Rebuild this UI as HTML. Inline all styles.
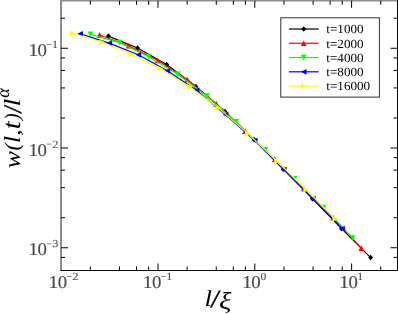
<!DOCTYPE html><html><head><meta charset="utf-8"><style>html,body{margin:0;padding:0;background:#fff;}body{width:398px;height:314px;overflow:hidden;position:relative;font-family:"Liberation Serif",serif;}svg text{text-rendering:geometricPrecision;}</style></head><body><svg width="398" height="314" viewBox="0 0 398 314" style="position:absolute;left:0;top:0;display:block;will-change:transform">
<rect width="398" height="314" fill="#fff"/>
<defs><clipPath id="c"><rect x="61.0" y="0.8" width="336.5" height="269.7"/></clipPath></defs>
<g clip-path="url(#c)">
<path d="M108.40 36.10L137.54 48.00L166.68 64.60L195.82 86.50L224.96 111.50L254.10 139.70L283.24 169.20L312.38 198.60L341.52 228.70L370.66 257.60" fill="none" stroke="#000000" stroke-width="1.2" stroke-linejoin="round"/>
<path d="M108.40 33.25L110.85 36.10L108.40 38.95L105.95 36.10Z" fill="#000000"/>
<path d="M137.54 45.15L139.99 48.00L137.54 50.85L135.09 48.00Z" fill="#000000"/>
<path d="M166.68 61.75L169.13 64.60L166.68 67.45L164.23 64.60Z" fill="#000000"/>
<path d="M195.82 83.65L198.27 86.50L195.82 89.35L193.37 86.50Z" fill="#000000"/>
<path d="M224.96 108.65L227.41 111.50L224.96 114.35L222.51 111.50Z" fill="#000000"/>
<path d="M254.10 136.85L256.55 139.70L254.10 142.55L251.65 139.70Z" fill="#000000"/>
<path d="M283.24 166.35L285.69 169.20L283.24 172.05L280.79 169.20Z" fill="#000000"/>
<path d="M312.38 195.75L314.83 198.60L312.38 201.45L309.93 198.60Z" fill="#000000"/>
<path d="M341.52 225.85L343.97 228.70L341.52 231.55L339.07 228.70Z" fill="#000000"/>
<path d="M370.66 254.75L373.11 257.60L370.66 260.45L368.21 257.60Z" fill="#000000"/>
<path d="M99.50 35.00L128.60 45.70L157.75 60.30L187.20 79.50L216.30 103.60L245.05 131.10L274.75 159.30L303.80 188.60L333.10 217.60L361.30 248.10" fill="none" stroke="#ff0000" stroke-width="1.2" stroke-linejoin="round"/>
<path d="M99.50 32.15L102.35 37.85L96.65 37.85Z" fill="#ff0000"/>
<path d="M128.60 42.85L131.45 48.55L125.75 48.55Z" fill="#ff0000"/>
<path d="M157.75 57.45L160.60 63.15L154.90 63.15Z" fill="#ff0000"/>
<path d="M187.20 76.65L190.05 82.35L184.35 82.35Z" fill="#ff0000"/>
<path d="M216.30 100.75L219.15 106.45L213.45 106.45Z" fill="#ff0000"/>
<path d="M245.05 128.25L247.90 133.95L242.20 133.95Z" fill="#ff0000"/>
<path d="M274.75 156.45L277.60 162.15L271.90 162.15Z" fill="#ff0000"/>
<path d="M303.80 185.75L306.65 191.45L300.95 191.45Z" fill="#ff0000"/>
<path d="M333.10 214.75L335.95 220.45L330.25 220.45Z" fill="#ff0000"/>
<path d="M361.30 245.25L364.15 250.95L358.45 250.95Z" fill="#ff0000"/>
<path d="M90.40 34.35L119.55 42.70L148.70 56.70L177.85 74.30L207.00 96.20L236.15 121.90L265.30 149.85L294.45 178.80L323.60 207.70L352.75 238.00" fill="none" stroke="#00ff00" stroke-width="1.2" stroke-linejoin="round"/>
<path d="M90.40 37.20L93.25 31.50L87.55 31.50Z" fill="#00ff00"/>
<path d="M119.55 45.55L122.40 39.85L116.70 39.85Z" fill="#00ff00"/>
<path d="M148.70 59.55L151.55 53.85L145.85 53.85Z" fill="#00ff00"/>
<path d="M177.85 77.15L180.70 71.45L175.00 71.45Z" fill="#00ff00"/>
<path d="M207.00 99.05L209.85 93.35L204.15 93.35Z" fill="#00ff00"/>
<path d="M236.15 124.75L239.00 119.05L233.30 119.05Z" fill="#00ff00"/>
<path d="M265.30 152.70L268.15 147.00L262.45 147.00Z" fill="#00ff00"/>
<path d="M294.45 181.65L297.30 175.95L291.60 175.95Z" fill="#00ff00"/>
<path d="M323.60 210.55L326.45 204.85L320.75 204.85Z" fill="#00ff00"/>
<path d="M352.75 240.85L355.60 235.15L349.90 235.15Z" fill="#00ff00"/>
<path d="M80.10 33.75L109.20 43.10L138.30 54.80L167.40 70.80L196.50 90.30L225.60 114.70L254.70 140.50L283.80 169.60L312.90 198.80L342.00 228.50" fill="none" stroke="#0000ff" stroke-width="1.2" stroke-linejoin="round"/>
<path d="M77.25 33.75L82.95 30.90L82.95 36.60Z" fill="#0000ff"/>
<path d="M106.35 43.10L112.05 40.25L112.05 45.95Z" fill="#0000ff"/>
<path d="M135.45 54.80L141.15 51.95L141.15 57.65Z" fill="#0000ff"/>
<path d="M164.55 70.80L170.25 67.95L170.25 73.65Z" fill="#0000ff"/>
<path d="M193.65 90.30L199.35 87.45L199.35 93.15Z" fill="#0000ff"/>
<path d="M222.75 114.70L228.45 111.85L228.45 117.55Z" fill="#0000ff"/>
<path d="M251.85 140.50L257.55 137.65L257.55 143.35Z" fill="#0000ff"/>
<path d="M280.95 169.60L286.65 166.75L286.65 172.45Z" fill="#0000ff"/>
<path d="M310.05 198.80L315.75 195.95L315.75 201.65Z" fill="#0000ff"/>
<path d="M339.15 228.50L344.85 225.65L344.85 231.35Z" fill="#0000ff"/>
<path d="M73.10 33.50L102.23 42.30L131.36 54.20L160.49 68.70L189.62 86.70L218.75 108.10L247.88 133.60L277.01 161.20L306.14 189.80L335.27 219.00" fill="none" stroke="#ffff00" stroke-width="1.2" stroke-linejoin="round"/>
<path d="M75.95 33.50L70.25 30.65L70.25 36.35Z" fill="#ffff00"/>
<path d="M105.08 42.30L99.38 39.45L99.38 45.15Z" fill="#ffff00"/>
<path d="M134.21 54.20L128.51 51.35L128.51 57.05Z" fill="#ffff00"/>
<path d="M163.34 68.70L157.64 65.85L157.64 71.55Z" fill="#ffff00"/>
<path d="M192.47 86.70L186.77 83.85L186.77 89.55Z" fill="#ffff00"/>
<path d="M221.60 108.10L215.90 105.25L215.90 110.95Z" fill="#ffff00"/>
<path d="M250.73 133.60L245.03 130.75L245.03 136.45Z" fill="#ffff00"/>
<path d="M279.86 161.20L274.16 158.35L274.16 164.05Z" fill="#ffff00"/>
<path d="M308.99 189.80L303.29 186.95L303.29 192.65Z" fill="#ffff00"/>
<path d="M338.12 219.00L332.42 216.15L332.42 221.85Z" fill="#ffff00"/>
</g>
<path d="M61.0 0V271.0" fill="none" stroke="#1c1c1c" stroke-width="1"/>
<path d="M60.5 0.75H398.0" fill="none" stroke="#8e8e8e" stroke-width="1.5"/>
<path d="M397.5 0V271.0M60.5 270.5H398.0" fill="none" stroke="#0a0a0a" stroke-width="1"/>
<path d="M90.34 270.5v-4M90.34 0.8v4M119.48 270.5v-4M119.48 0.8v4M136.53 270.5v-4M136.53 0.8v4M148.62 270.5v-4M148.62 0.8v4M158.00 270.5v-7M158.00 0.8v7M187.14 270.5v-4M187.14 0.8v4M216.28 270.5v-4M216.28 0.8v4M233.33 270.5v-4M233.33 0.8v4M245.42 270.5v-4M245.42 0.8v4M254.80 270.5v-7M254.80 0.8v7M283.94 270.5v-4M283.94 0.8v4M313.08 270.5v-4M313.08 0.8v4M330.13 270.5v-4M330.13 0.8v4M342.22 270.5v-4M342.22 0.8v4M351.60 270.5v-7M351.60 0.8v7M380.74 270.5v-4M380.74 0.8v4M61.0 257.42h4M397.5 257.42h-4M61.0 247.75h7M397.5 247.75h-7M61.0 217.72h4M397.5 217.72h-4M61.0 187.69h4M397.5 187.69h-4M61.0 170.13h4M397.5 170.13h-4M61.0 157.67h4M397.5 157.67h-4M61.0 148.00h7M397.5 148.00h-7M61.0 117.97h4M397.5 117.97h-4M61.0 87.94h4M397.5 87.94h-4M61.0 70.38h4M397.5 70.38h-4M61.0 57.92h4M397.5 57.92h-4M61.0 48.25h7M397.5 48.25h-7M61.0 18.22h4M397.5 18.22h-4" fill="none" stroke="#000" stroke-width="1"/>
<text transform="matrix(0.2029 0 0 0.1817 48.27 288.00)" font-family="Liberation Serif, serif" font-style="normal" font-size="100" fill="#4a4a4a" stroke="#4a4a4a" stroke-width="0.8">1</text><text transform="matrix(0.1881 0 0 0.1807 57.65 288.02)" font-family="Liberation Serif, serif" font-style="normal" font-size="100" fill="#4a4a4a" stroke="#4a4a4a" stroke-width="0.8">0</text><rect x="66.80" y="276.10" width="4.8" height="0.75" fill="#666"/><text transform="matrix(0.1250 0 0 0.1091 72.34 279.90)" font-family="Liberation Serif, serif" font-style="normal" font-size="100" fill="#4a4a4a" stroke="#4a4a4a" stroke-width="0.8">2</text>
<text transform="matrix(0.2029 0 0 0.1817 142.52 288.00)" font-family="Liberation Serif, serif" font-style="normal" font-size="100" fill="#4a4a4a" stroke="#4a4a4a" stroke-width="0.8">1</text><text transform="matrix(0.1881 0 0 0.1807 151.90 288.02)" font-family="Liberation Serif, serif" font-style="normal" font-size="100" fill="#4a4a4a" stroke="#4a4a4a" stroke-width="0.8">0</text><rect x="161.05" y="276.10" width="4.8" height="0.75" fill="#666"/><text transform="matrix(0.1200 0 0 0.1099 166.37 279.90)" font-family="Liberation Serif, serif" font-style="normal" font-size="100" fill="#4a4a4a" stroke="#4a4a4a" stroke-width="0.8">1</text>
<text transform="matrix(0.2029 0 0 0.1817 241.92 288.00)" font-family="Liberation Serif, serif" font-style="normal" font-size="100" fill="#4a4a4a" stroke="#4a4a4a" stroke-width="0.8">1</text><text transform="matrix(0.1881 0 0 0.1807 251.30 288.02)" font-family="Liberation Serif, serif" font-style="normal" font-size="100" fill="#4a4a4a" stroke="#4a4a4a" stroke-width="0.8">0</text><text transform="matrix(0.1143 0 0 0.1067 260.59 279.79)" font-family="Liberation Serif, serif" font-style="normal" font-size="100" fill="#4a4a4a" stroke="#4a4a4a" stroke-width="0.8">0</text>
<text transform="matrix(0.2029 0 0 0.1817 339.07 288.00)" font-family="Liberation Serif, serif" font-style="normal" font-size="100" fill="#4a4a4a" stroke="#4a4a4a" stroke-width="0.8">1</text><text transform="matrix(0.1881 0 0 0.1807 348.45 288.02)" font-family="Liberation Serif, serif" font-style="normal" font-size="100" fill="#4a4a4a" stroke="#4a4a4a" stroke-width="0.8">0</text><text transform="matrix(0.1171 0 0 0.1099 357.15 279.90)" font-family="Liberation Serif, serif" font-style="normal" font-size="100" fill="#4a4a4a" stroke="#4a4a4a" stroke-width="0.8">1</text>
<text transform="matrix(0.2029 0 0 0.1817 28.17 55.85)" font-family="Liberation Serif, serif" font-style="normal" font-size="100" fill="#4a4a4a" stroke="#4a4a4a" stroke-width="0.8">1</text><text transform="matrix(0.1881 0 0 0.1807 37.55 55.87)" font-family="Liberation Serif, serif" font-style="normal" font-size="100" fill="#4a4a4a" stroke="#4a4a4a" stroke-width="0.8">0</text><rect x="46.70" y="43.95" width="4.8" height="0.75" fill="#666"/><text transform="matrix(0.1200 0 0 0.1099 52.02 47.75)" font-family="Liberation Serif, serif" font-style="normal" font-size="100" fill="#4a4a4a" stroke="#4a4a4a" stroke-width="0.8">1</text>
<text transform="matrix(0.2029 0 0 0.1817 28.17 155.60)" font-family="Liberation Serif, serif" font-style="normal" font-size="100" fill="#4a4a4a" stroke="#4a4a4a" stroke-width="0.8">1</text><text transform="matrix(0.1881 0 0 0.1807 37.55 155.62)" font-family="Liberation Serif, serif" font-style="normal" font-size="100" fill="#4a4a4a" stroke="#4a4a4a" stroke-width="0.8">0</text><rect x="46.70" y="143.70" width="4.8" height="0.75" fill="#666"/><text transform="matrix(0.1250 0 0 0.1091 52.24 147.50)" font-family="Liberation Serif, serif" font-style="normal" font-size="100" fill="#4a4a4a" stroke="#4a4a4a" stroke-width="0.8">2</text>
<text transform="matrix(0.2029 0 0 0.1817 28.17 255.35)" font-family="Liberation Serif, serif" font-style="normal" font-size="100" fill="#4a4a4a" stroke="#4a4a4a" stroke-width="0.8">1</text><text transform="matrix(0.1881 0 0 0.1807 37.55 255.37)" font-family="Liberation Serif, serif" font-style="normal" font-size="100" fill="#4a4a4a" stroke="#4a4a4a" stroke-width="0.8">0</text><rect x="46.70" y="243.45" width="4.8" height="0.75" fill="#666"/><text transform="matrix(0.1220 0 0 0.1075 52.19 247.14)" font-family="Liberation Serif, serif" font-style="normal" font-size="100" fill="#4a4a4a" stroke="#4a4a4a" stroke-width="0.8">3</text>
<text transform="matrix(0.2700 0 0 0.2261 204.61 305.70)" font-family="Liberation Serif, serif" font-style="italic" font-size="100" fill="#000">l</text>
<text transform="matrix(0.2506 0 0 0.2451 211.43 307.25)" font-family="Liberation Serif, serif" font-style="italic" font-size="100" fill="#000" stroke="#000" stroke-width="2.2">/</text>
<text transform="matrix(0.2897 0 0 0.2437 219.09 308.84)" font-family="Liberation Serif, serif" font-style="italic" font-size="100" fill="#000">ξ</text>
<text transform="translate(19.9 167.6) rotate(-90) matrix(0.2567 0 0 0.2344 -0.64 -0.03)" font-family="Liberation Serif, serif" font-style="italic" font-size="100" fill="#000">w</text>
<text transform="translate(19.9 167.6) rotate(-90) matrix(0.2200 0 0 0.2111 17.03 -1.33)" font-family="Liberation Serif, serif" font-style="italic" font-size="100" fill="#000">(</text>
<text transform="translate(19.9 167.6) rotate(-90) matrix(0.2550 0 0 0.2304 24.60 0.00)" font-family="Liberation Serif, serif" font-style="italic" font-size="100" fill="#000">l</text>
<text transform="translate(19.9 167.6) rotate(-90) matrix(0.2667 0 0 0.2000 31.67 0.10)" font-family="Liberation Serif, serif" font-style="italic" font-size="100" fill="#000">,</text>
<text transform="translate(19.9 167.6) rotate(-90) matrix(0.2840 0 0 0.2544 38.42 -0.05)" font-family="Liberation Serif, serif" font-style="italic" font-size="100" fill="#000">t</text>
<text transform="translate(19.9 167.6) rotate(-90) matrix(0.2087 0 0 0.2111 47.24 -1.33)" font-family="Liberation Serif, serif" font-style="italic" font-size="100" fill="#000">)</text>
<text transform="translate(19.9 167.6) rotate(-90) matrix(0.2127 0 0 0.2496 55.16 1.55)" font-family="Liberation Serif, serif" font-style="italic" font-size="100" fill="#000" stroke="#000" stroke-width="2.2">/</text>
<text transform="translate(19.9 167.6) rotate(-90) matrix(0.2850 0 0 0.2304 61.03 0.00)" font-family="Liberation Serif, serif" font-style="italic" font-size="100" fill="#000">l</text>
<text transform="translate(19.9 167.6) rotate(-90) matrix(0.1804 0 0 0.1854 69.76 -11.19)" font-family="Liberation Serif, serif" font-style="italic" font-size="100" fill="#000">α</text>
<rect x="280.8" y="17.8" width="98.60" height="79.30" fill="#fff" stroke="#303030" stroke-width="1"/>
<path d="M288.9 29.00H318.7" stroke="#000000" stroke-width="1.2"/>
<path d="M303.70 26.15L306.15 29.00L303.70 31.85L301.25 29.00Z" fill="#000000"/>
<text transform="translate(326.25 33.45) scale(1.052 1)" font-family="Liberation Serif, serif" font-size="12.5" fill="#000">t=1000</text>
<path d="M288.9 43.27H318.7" stroke="#ff0000" stroke-width="1.2"/>
<path d="M303.70 40.42L306.55 46.12L300.85 46.12Z" fill="#ff0000"/>
<text transform="translate(326.25 47.65) scale(1.052 1)" font-family="Liberation Serif, serif" font-size="12.5" fill="#000">t=2000</text>
<path d="M288.9 57.54H318.7" stroke="#00ff00" stroke-width="1.2"/>
<path d="M303.70 60.39L306.55 54.69L300.85 54.69Z" fill="#00ff00"/>
<text transform="translate(326.25 61.85) scale(1.052 1)" font-family="Liberation Serif, serif" font-size="12.5" fill="#000">t=4000</text>
<path d="M288.9 71.81H318.7" stroke="#0000ff" stroke-width="1.2"/>
<path d="M300.85 71.81L306.55 68.96L306.55 74.66Z" fill="#0000ff"/>
<text transform="translate(326.25 76.05) scale(1.052 1)" font-family="Liberation Serif, serif" font-size="12.5" fill="#000">t=8000</text>
<path d="M288.9 86.08H318.7" stroke="#ffff00" stroke-width="1.2"/>
<path d="M306.55 86.08L300.85 83.23L300.85 88.93Z" fill="#ffff00"/>
<text transform="translate(326.25 90.25) scale(1.052 1)" font-family="Liberation Serif, serif" font-size="12.5" fill="#000">t=16000</text>
</svg></body></html>
